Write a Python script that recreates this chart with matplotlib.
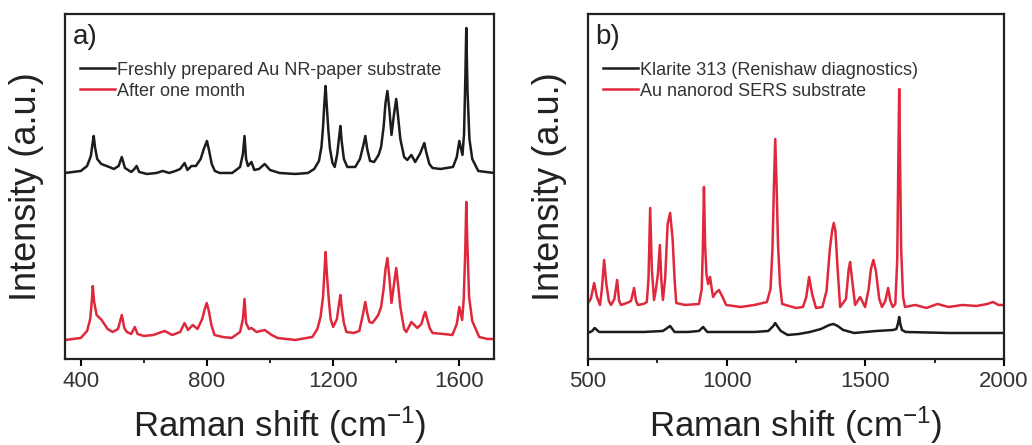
import matplotlib.pyplot as plt
from matplotlib.ticker import MultipleLocator

plt.rcParams['font.family'] = ['Liberation Sans', 'DejaVu Sans']
plt.rcParams['mathtext.fontset'] = 'custom'
plt.rcParams['mathtext.rm'] = 'Liberation Sans'
plt.rcParams['mathtext.it'] = 'Liberation Sans:italic'

# (a) Au NR-paper substrate, fresh vs. after one month (offset traces)
fresh_shift = [350, 400, 420, 432, 437, 441, 445, 452, 465, 490, 505, 520, 530, 540, 560,
               570, 577, 585, 610, 640, 660, 680, 700, 715, 729, 738, 751, 765, 780, 790,
               800, 807, 815, 825, 840, 880, 905, 914, 919, 924, 930, 941, 950, 965, 983,
               1000, 1030, 1080, 1120, 1140, 1155, 1163, 1168, 1172, 1176, 1180, 1185,
               1190, 1198, 1205, 1213, 1219, 1223, 1227, 1234, 1245, 1270, 1285, 1296,
               1302, 1308, 1317, 1330, 1344, 1352, 1360, 1366, 1372, 1378, 1385, 1393,
               1400, 1406, 1413, 1425, 1435, 1448, 1460, 1475, 1484, 1489, 1495, 1505,
               1515, 1540, 1580, 1592, 1600, 1610, 1615, 1619, 1622, 1626, 1632, 1641,
               1660, 1710]
fresh_int = [186, 188, 193, 203, 215, 223, 212, 200, 195, 192, 190, 193, 202, 191, 187,
             190, 193, 187, 185, 186, 188, 186, 188, 190, 196, 189, 193, 193, 200, 210,
             218, 208, 195, 188, 186, 186, 192, 205, 223, 200, 193, 197, 189, 190, 195,
             189, 186, 185, 186, 190, 198, 212, 232, 255, 273, 252, 228,
             210, 196, 192, 205, 222, 233, 218, 200, 192, 192, 200, 214,
             223, 210, 198, 197, 204, 212, 232, 256, 268, 250, 224, 245,
             260, 242, 220, 202, 199, 204, 197, 205, 212, 216, 207, 195,
             191, 190, 192, 202, 218, 204, 225, 280, 331, 268, 220, 200,
             188, 186]

month_shift = [350, 400, 420, 430, 435, 438, 442, 450, 466, 485, 501, 518, 530, 538, 546,
               560, 571, 580, 600, 630, 666, 690, 715, 729, 740, 755, 770, 785, 793, 799,
               806, 814, 824, 850, 878, 905, 914, 919, 924, 933, 941, 957, 983, 1005, 1024,
               1080, 1134, 1150, 1160, 1168, 1172, 1176, 1180, 1186, 1192, 1200, 1212,
               1219, 1223, 1227, 1234, 1242, 1265, 1283, 1294, 1302, 1308, 1315, 1324,
               1334, 1343, 1352, 1360, 1366, 1372, 1378, 1385, 1393, 1400, 1406, 1413,
               1425, 1432, 1448, 1467, 1480, 1487, 1492, 1498, 1506, 1515, 1550, 1578,
               1592, 1600, 1609, 1614, 1619, 1622, 1625, 1631, 1641, 1663, 1689, 1710]
month_int = [19, 21, 28, 40, 58, 73, 58, 44, 39, 30, 27, 30, 44, 31, 27,
             25, 32, 25, 23, 24, 28, 24, 27, 36, 29, 34, 30, 40, 50, 56,
             48, 34, 24, 22, 21, 27, 40, 60, 36, 30, 31, 27, 29, 24, 21,
             19, 22, 30, 42, 62, 85, 107, 86, 60, 40, 32, 40,
             56, 64, 52, 36, 27, 26, 28, 44, 57, 46, 37, 36,
             40, 44, 52, 70, 90, 101, 82, 56, 75, 91, 74, 52,
             30, 27, 37, 31, 35, 43, 47, 40, 31, 26, 25, 24,
             35, 52, 39, 60, 110, 157, 120, 62, 38, 22, 20, 20]

# (b) commercial Klarite vs. Au nanorod SERS substrate
klarite_shift = [500, 515, 524, 540, 600, 700, 770, 796, 812, 860, 900, 915, 930, 1000,
                 1100, 1150, 1168, 1175, 1182, 1195, 1220, 1260, 1300, 1340, 1370, 1385,
                 1400, 1420, 1460, 1500, 1540, 1600, 1612, 1618, 1622, 1626, 1632, 1645,
                 1800, 2000]
klarite_int = [26, 28, 31, 27, 27, 27, 28, 33, 27, 27, 28, 32, 27, 27,
               27, 28, 33, 36, 33, 28, 24, 25, 27, 30, 34, 35,
               33, 29, 26, 27, 28, 29, 30, 36, 42, 35, 29, 27,
               26, 26]

nanorod_shift = [500, 510, 522, 532, 543, 550, 558, 566, 575, 583, 595, 605, 612, 619,
                 640, 655, 666, 673, 680, 700, 712, 718, 724, 730, 738, 745, 752, 759,
                 764, 770, 778, 787, 796, 805, 812, 818, 850, 900, 910, 914, 918, 922,
                 927, 933, 940, 946, 951, 960, 972, 985, 998, 1050, 1100, 1145, 1158, 1165,
                 1170, 1175, 1180, 1185, 1192, 1200, 1250, 1275, 1287, 1297, 1308, 1322,
                 1345, 1360, 1372, 1380, 1386, 1392, 1400, 1409, 1430, 1440, 1445, 1452,
                 1463, 1472, 1481, 1490, 1499, 1512, 1520, 1529, 1538, 1550, 1560, 1572,
                 1582, 1590, 1599, 1608, 1615, 1619, 1622, 1625, 1629, 1636, 1643, 1680,
                 1720, 1760, 1800, 1850, 1900, 1940, 1960, 1980, 2000]
nanorod_int = [56, 60, 76, 62, 54, 70, 99, 75, 58, 54, 60, 79, 58, 54,
               56, 58, 71, 58, 54, 55, 57, 80, 151, 90, 59, 70, 85, 114,
               80, 59, 80, 135, 146, 120, 80, 56, 54, 55, 70, 110, 172, 115,
               85, 75, 82, 70, 62, 66, 69, 62, 54, 52, 54, 57, 70, 110,
               170, 220, 172, 115, 75, 55, 51, 52, 62, 82, 65, 51,
               52, 68, 110, 128, 136, 128, 90, 52, 60, 90, 97, 80,
               54, 58, 62, 57, 52, 70, 90, 99, 88, 60, 52, 58,
               71, 58, 52, 55, 100, 200, 270, 200, 110, 62, 52, 54,
               51, 55, 52, 54, 53, 55, 57, 54, 54]

black = '#1c1c1c'
red = '#e0283c'

fig = plt.figure(figsize=(10.32, 4.45), dpi=100)
ax1 = fig.add_axes([0.063, 0.1933, 0.4157, 0.7753])
ax2 = fig.add_axes([0.5698, 0.1933, 0.4031, 0.7753])

ax1.plot(fresh_shift, fresh_int, color=black, lw=1.8,
         label='Freshly prepared Au NR-paper substrate')
ax1.plot(month_shift, month_int, color=red, lw=1.8, label='After one month')
ax1.set_xlim(350, 1710)
ax1.xaxis.set_major_locator(MultipleLocator(400))
ax1.xaxis.set_minor_locator(MultipleLocator(200))

ax2.plot(klarite_shift, klarite_int, color=black, lw=1.8,
         label='Klarite 313 (Renishaw diagnostics)')
ax2.plot(nanorod_shift, nanorod_int, color=red, lw=1.8,
         label='Au nanorod SERS substrate')
ax2.set_xlim(500, 2000)
ax2.xaxis.set_major_locator(MultipleLocator(500))
ax2.xaxis.set_minor_locator(MultipleLocator(250))

for ax, tag in [(ax1, 'a)'), (ax2, 'b)')]:
    ax.set_ylim(0, 345)
    ax.set_yticks([])
    for sp in ax.spines.values():
        sp.set_linewidth(1.6)
        sp.set_color('#222222')
    ax.tick_params(axis='x', which='major', direction='out', length=5, width=1.5,
                   labelsize=16, labelcolor='#333333', pad=4)
    ax.tick_params(axis='x', which='minor', direction='out', length=3, width=1.2)
    ax.set_xlabel('Raman shift (cm$^{-1}$)', fontsize=25, color='#222222', labelpad=9)
    ax.set_ylabel('Intensity (a.u.)', fontsize=26, color='#222222', labelpad=15)
    ax.text(0.018, 0.972, tag, transform=ax.transAxes, fontsize=20, va='top', ha='left',
            color='#222222')
    leg = ax.legend(loc='upper left', bbox_to_anchor=(0.035, 0.862), frameon=False,
                    fontsize=13, handlelength=1.95, handletextpad=0.1,
                    labelspacing=0.23, borderpad=0, borderaxespad=0)
    for t in leg.get_texts():
        t.set_color('#333333')

fig.savefig('out.png', dpi=100)
